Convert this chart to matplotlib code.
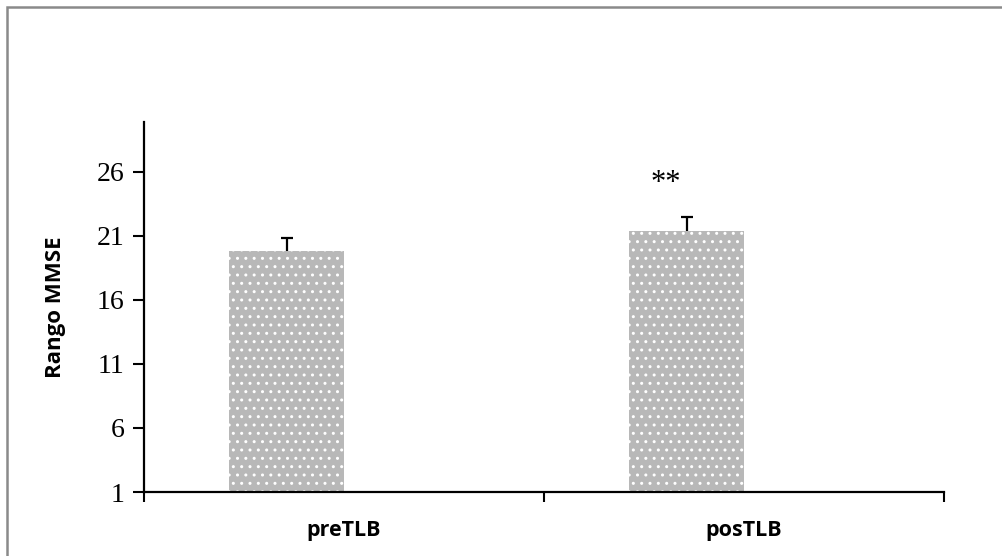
import matplotlib
matplotlib.use("Agg")
import matplotlib.pyplot as plt
from matplotlib.patches import Rectangle
import numpy as np

categories = ["preTLB", "posTLB"]
values = [19.8, 21.4]
errors = [1.05, 1.05]
yticks = [1, 6, 11, 16, 21, 26]
annotation = "**"
annot_y = 25.1
ylabel = "Rango MMSE"

W, H = 1002, 556
fig = plt.figure(figsize=(W / 100, H / 100), dpi=100)
ax = fig.add_axes([144 / W, (H - 492) / H, 800 / W, (492 - 122) / H])

x = np.arange(len(categories))
w = 0.2875
pos = x - w / 2
vals = np.array(values)
errs = np.array(errors)
ax.bar(pos, vals - 1, width=w, bottom=1,
       color="#b8b8b8", edgecolor="white", hatch="..", linewidth=0, zorder=2)
# plus-only error bars
ax.vlines(pos, vals, vals + errs, color="black", linewidth=1.6, zorder=3)
ax.hlines(vals + errs, pos - 0.015, pos + 0.015, color="black", linewidth=1.6, zorder=3)

ax.text(1 - w / 2 - 0.052, annot_y, annotation, ha="center", va="center",
        fontsize=22, family="Liberation Serif")

ax.set_xlim(-0.5, 1.5)
ax.set_ylim(1, 29.9)
ax.set_yticks(yticks)
ax.set_yticklabels([str(t) for t in yticks], family="Liberation Serif", fontsize=20)
ax.set_xticks([-0.5, 0.5, 1.5], minor=False)
ax.set_xticklabels([])
ax.set_xticks(x, minor=True)
ax.set_xticklabels(categories, minor=True, fontsize=15.5, fontweight="bold",
                   family="Open Sans")
ax.tick_params(axis="x", which="minor", length=0, pad=20)
ax.tick_params(axis="x", which="major", length=7, width=1.5, direction="out")
ax.tick_params(axis="y", length=8, width=1.5, direction="out", pad=6)

for s in ["top", "right"]:
    ax.spines[s].set_visible(False)
for s in ["left", "bottom"]:
    ax.spines[s].set_linewidth(1.6)
    ax.spines[s].set_color("black")

ax.set_ylabel(ylabel, fontsize=16, fontweight="bold", family="Open Sans", labelpad=22)

fig.patches.append(Rectangle((7 / W, -0.1), 1.2, (H - 7) / H + 0.1, transform=fig.transFigure,
                             fill=False, edgecolor="#8a8a8a", linewidth=1.8))

fig.savefig("out.png", dpi=100)
